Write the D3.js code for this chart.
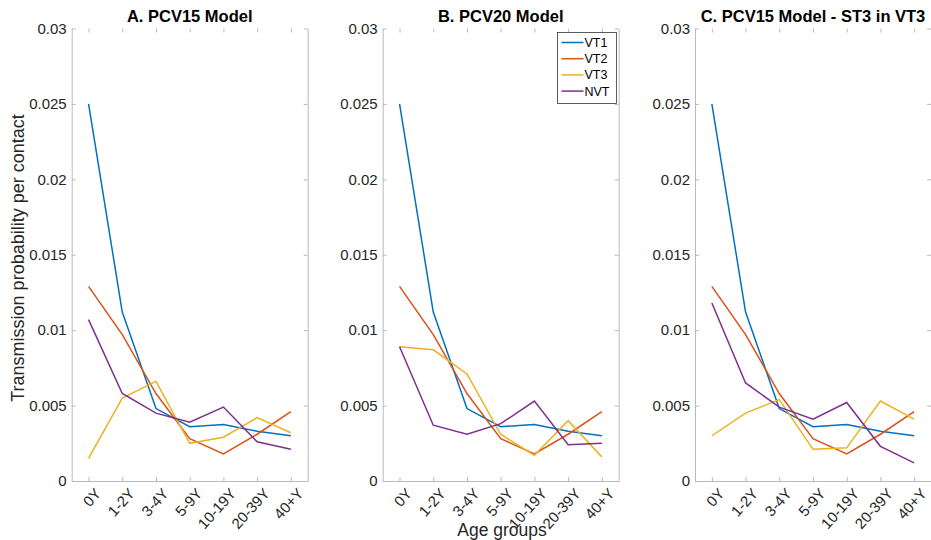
<!DOCTYPE html>
<html>
<head>
<meta charset="utf-8">
<script src="https://cdn.jsdelivr.net/npm/d3@7"></script>
<style>
  body { margin: 0; background: #fff; }
  svg { display: block; font-family: "Liberation Sans", Arial, sans-serif; }
</style>
</head>
<body>
<script>
// categories / tick labels
var ageGroups = ['0Y', '1-2Y', '3-4Y', '5-9Y', '10-19Y', '20-39Y', '40+Y']
var yTicks = [0, 0.005, 0.01, 0.015, 0.02, 0.025, 0.03]
var seriesNames = ['VT1', 'VT2', 'VT3', 'NVT']
var panelTitles = ['A. PCV15 Model', 'B. PCV20 Model', 'C. PCV15 Model - ST3 in VT3']

// values, one array per series per panel
var vt1A = [0.0250, 0.0112, 0.0048, 0.0036, 0.00375, 0.0033, 0.0030]
var vt2A = [0.0129, 0.0097, 0.0058, 0.0028, 0.0018, 0.0031, 0.0046]
var vt3A = [0.0015, 0.0055, 0.0066, 0.0025, 0.0029, 0.0042, 0.0032]
var nvtA = [0.0107, 0.0058, 0.0045, 0.0039, 0.0049, 0.0026, 0.0021]

var vt1B = [0.0250, 0.0112, 0.0048, 0.0036, 0.00375, 0.0033, 0.0030]
var vt2B = [0.0129, 0.0097, 0.0058, 0.0028, 0.0018, 0.0031, 0.0046]
var vt3B = [0.0089, 0.0087, 0.0071, 0.0031, 0.0017, 0.0040, 0.0016]
var nvtB = [0.0089, 0.0037, 0.0031, 0.0038, 0.0053, 0.0024, 0.0025]

var vt1C = [0.0250, 0.0112, 0.0048, 0.0036, 0.00375, 0.0033, 0.0030]
var vt2C = [0.0129, 0.0097, 0.0058, 0.0028, 0.0018, 0.0031, 0.0046]
var vt3C = [0.0030, 0.0045, 0.0054, 0.0021, 0.0022, 0.0053, 0.0041]
var nvtC = [0.0118, 0.0065, 0.0049, 0.0041, 0.0052, 0.0023, 0.0012]

var panels = [
  [vt1A, vt2A, vt3A, nvtA],
  [vt1B, vt2B, vt3B, nvtB],
  [vt1C, vt2C, vt3C, nvtC]
]

var colors = ['#0072BD', '#D95319', '#EDB120', '#7E2F8E']

// layout
var W = 931, H = 540
var panelLeft = [71.7, 382.7, 695]
var panelW = 236
var plotTop = 28.5, plotBottom = 481

var svg = d3.select('body').append('svg')
  .attr('width', W)
  .attr('height', H)

var x = d3.scalePoint().domain(ageGroups).range([0, panelW]).padding(0.5)
var y = d3.scaleLinear().domain([0, 0.03]).range([plotBottom, plotTop])

var axisColor = '#bababa', textColor = '#262626'
var fmt = function(d) { return d === 0 ? '0' : String(+d.toFixed(3)) }

panels.forEach(function(series, p) {
  var g = svg.append('g').attr('transform', 'translate(' + panelLeft[p] + ',0)')

  // left axis
  var yAxis = d3.axisLeft(y).tickValues(yTicks).tickFormat(fmt).tickSizeInner(-4).tickSizeOuter(0).tickPadding(5)
  var ya = g.append('g').call(yAxis)
  ya.select('.domain').attr('stroke', axisColor)
  ya.selectAll('.tick line').attr('stroke', axisColor)
  ya.selectAll('.tick text').attr('fill', textColor).style('font-size', '15px')
    .attr('font-family', null)

  // right axis (ticks only)
  var yr = g.append('g').attr('transform', 'translate(' + panelW + ',0)')
    .call(d3.axisRight(y).tickValues(yTicks).tickFormat('').tickSizeInner(-4).tickSizeOuter(0))
  yr.select('.domain').attr('stroke', axisColor)
  yr.selectAll('.tick line').attr('stroke', axisColor)

  // bottom axis
  var xa = g.append('g').attr('transform', 'translate(0,' + plotBottom + ')')
    .call(d3.axisBottom(x).tickSizeInner(-4).tickSizeOuter(0))
  xa.select('.domain').attr('stroke', axisColor)
  xa.selectAll('.tick line').attr('stroke', axisColor)
  xa.selectAll('.tick text')
    .attr('fill', textColor)
    .attr('font-family', null)
    .style('font-size', '15px')
    .attr('text-anchor', 'end')
    .attr('dy', null).attr('y', null)
    .attr('transform', 'translate(13,13) rotate(-48)')

  // top ticks
  var xt = g.append('g').attr('transform', 'translate(0,' + plotTop + ')')
    .call(d3.axisTop(x).tickSizeInner(-4).tickSizeOuter(0).tickFormat(''))
  xt.select('.domain').remove()
  xt.selectAll('.tick line').attr('stroke', axisColor)

  // lines
  var line = d3.line()
    .x(function(d, i) { return x(ageGroups[i]) })
    .y(function(d) { return y(d) })

  series.forEach(function(vals, s) {
    g.append('path')
      .attr('d', line(vals))
      .attr('fill', 'none')
      .attr('stroke', colors[s])
      .attr('stroke-width', 1.5)
  })

  // title
  g.append('text')
    .attr('x', panelW / 2)
    .attr('y', 22)
    .attr('text-anchor', 'middle')
    .style('font-size', '16.5px')
    .style('font-weight', 'bold')
    .attr('fill', '#000')
    .text(panelTitles[p])
})

// legend in panel B
var lg = svg.append('g').attr('transform', 'translate(557.5,32.5)')
lg.append('rect')
  .attr('width', 59).attr('height', 71)
  .attr('fill', '#fff').attr('stroke', '#333').attr('stroke-width', 0.8)
seriesNames.forEach(function(name, i) {
  var yy = 10 + i * 16.2
  lg.append('line')
    .attr('x1', 4).attr('x2', 26).attr('y1', yy).attr('y2', yy)
    .attr('stroke', colors[i]).attr('stroke-width', 1.5)
  lg.append('text')
    .attr('x', 27).attr('y', yy + 4.5)
    .style('font-size', '12.5px')
    .attr('fill', '#000')
    .text(name)
})

// axis titles
svg.append('text')
  .attr('transform', 'translate(24,258) rotate(-90)')
  .attr('text-anchor', 'middle')
  .style('font-size', '18px')
  .attr('fill', textColor)
  .text('Transmission probability per contact')

svg.append('text')
  .attr('x', 502)
  .attr('y', 536)
  .attr('text-anchor', 'middle')
  .style('font-size', '17.5px')
  .attr('fill', textColor)
  .text('Age groups')
</script>
</body>
</html>
